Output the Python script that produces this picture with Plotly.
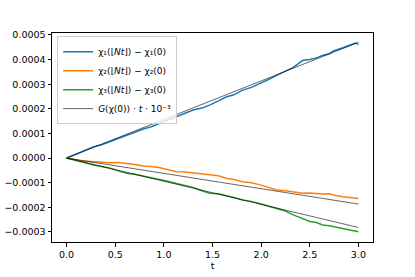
import plotly.graph_objects as go

# time samples (t)
t_pts = [0.0, 0.07, 0.14, 0.21, 0.28, 0.36, 0.45, 0.53, 0.62, 0.70, 0.79, 0.87, 0.96, 1.05, 1.13, 1.22, 1.30, 1.39, 1.47, 1.56, 1.64, 1.72, 1.81, 1.90, 1.99, 2.07, 2.16, 2.25, 2.33, 2.43, 2.50, 2.57, 2.63, 2.70, 2.75, 2.84, 2.93, 2.97, 3.0]

chi1 = [0.0, 0.000011, 0.0000235, 0.000032, 0.0000458, 0.000054, 0.000068, 0.000080, 0.000094, 0.000104, 0.000118, 0.000127, 0.000141, 0.000156, 0.000168, 0.000180, 0.000195, 0.000203, 0.000215, 0.000232, 0.000248, 0.000257, 0.000276, 0.000287, 0.000302, 0.000318, 0.000336, 0.000353, 0.000368, 0.000397, 0.000400, 0.000407, 0.000417, 0.000424, 0.000436, 0.000448, 0.000461, 0.000467, 0.000462]
chi2 = [0.0, -0.000006, -0.000011, -0.000013, -0.000015, -0.000017, -0.000019, -0.000018, -0.0000216, -0.000026, -0.0000324, -0.000034, -0.0000392, -0.000047, -0.0000554, -0.000057, -0.000060, -0.000066, -0.000069, -0.000072, -0.000082, -0.000087, -0.000096, -0.000100, -0.000109, -0.000118, -0.000130, -0.000133, -0.000138, -0.000143, -0.000142, -0.000145, -0.000146, -0.000145, -0.000151, -0.000157, -0.000160, -0.000163, -0.000164]
chi3 = [0.0, -0.000008, -0.000015, -0.000021, -0.0000284, -0.000034, -0.0000418, -0.000052, -0.000062, -0.000066, -0.000073, -0.000082, -0.000089, -0.000095, -0.000103, -0.000110, -0.000119, -0.000133, -0.000143, -0.000145, -0.000152, -0.000160, -0.000170, -0.000176, -0.000186, -0.000194, -0.000204, -0.000215, -0.000231, -0.000245, -0.000258, -0.000262, -0.000272, -0.000275, -0.000279, -0.000285, -0.000292, -0.000296, -0.000299]

# linear drift G(chi(0)) * 1e-3 per component
G_drift = [0.0001567, -0.0000623, -0.0000940]
t_line = [0.0, 3.0]

series_names = [
    "χ₁(⌊<i>Nt</i>⌋) − χ₁(0)",
    "χ₂(⌊<i>Nt</i>⌋) − χ₂(0)",
    "χ₃(⌊<i>Nt</i>⌋) − χ₃(0)",
]
gray_name = "<i>G</i>(χ(0)) · <i>t</i> · 10⁻³"
colors = ["#1f77b4", "#ff7f0e", "#2ca02c"]

x_ticks = [0.0, 0.5, 1.0, 1.5, 2.0, 2.5, 3.0]
y_ticks = [-0.0003, -0.0002, -0.0001, 0.0, 0.0001, 0.0002, 0.0003, 0.0004, 0.0005]

fig = go.Figure()
for name, ys, c in zip(series_names, [chi1, chi2, chi3], colors):
    fig.add_trace(go.Scatter(x=t_pts, y=ys, mode="lines", name=name,
                             line=dict(color=c, width=1.5)))
for i, g in enumerate(G_drift):
    fig.add_trace(go.Scatter(x=t_line, y=[g * tt for tt in t_line], mode="lines",
                             name=gray_name, showlegend=(i == 0),
                             line=dict(color="rgba(0,0,0,0.6)", width=1)))

axis_common = dict(showline=True, linecolor="black", linewidth=1, mirror=True,
                   ticks="outside", ticklen=3.5, tickcolor="black", showgrid=False,
                   zeroline=False, automargin=False,
                   tickfont=dict(size=9.5, color="black"))
fig.update_xaxes(range=[-0.15, 3.15], tickvals=x_ticks, tickformat=".1f",
                 title=dict(text="t", font=dict(size=9.5, color="black"), standoff=3),
                 **axis_common)
fig.update_yaxes(range=[-0.000341, 0.000508], tickvals=y_ticks, tickformat=".4f",
                 **axis_common)

fig.update_layout(
    width=415, height=277,
    margin=dict(l=52, r=42, t=33, b=35),
    paper_bgcolor="white", plot_bgcolor="white",
    font=dict(family="DejaVu Sans", size=9.5, color="black"),
    legend=dict(x=0.016, y=0.985, xanchor="left", yanchor="top",
                bgcolor="rgba(255,255,255,0.8)", bordercolor="#cccccc", borderwidth=1,
                font=dict(size=9), tracegroupgap=0, itemwidth=30),
)

fig.write_html("out.html", config={"displayModeBar": False},
               post_script="document.body.style.margin='0';document.body.style.padding='0';")
